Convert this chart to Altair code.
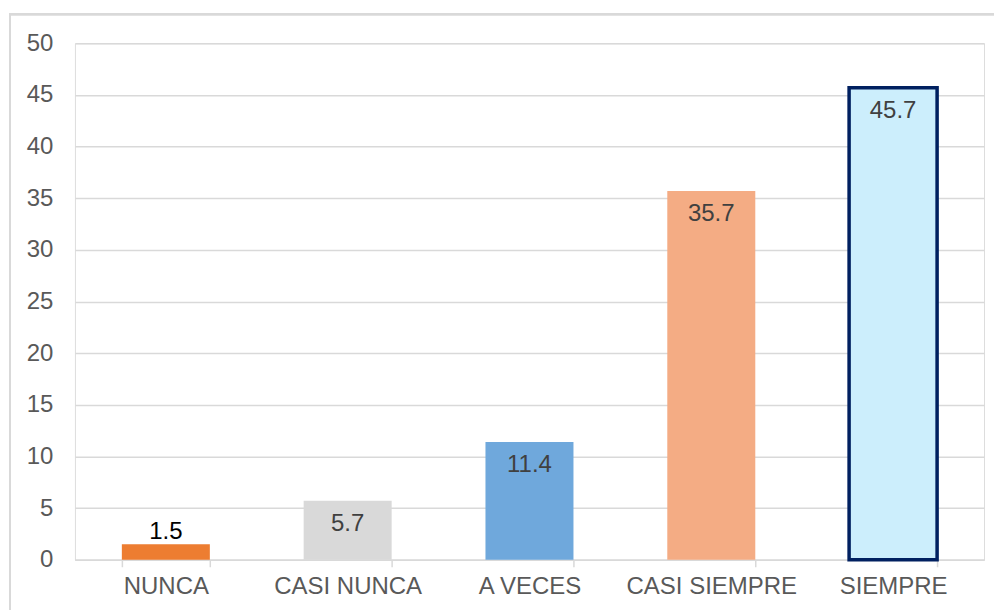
import altair as alt
import pandas as pd

categories = ["NUNCA", "CASI NUNCA", "A VECES", "CASI SIEMPRE", "SIEMPRE"]
values = [1.5, 5.7, 11.4, 35.7, 45.7]
colors = ["#ED7D31", "#D9D9D9", "#6FA8DC", "#F4AC84", "#CCEEFC"]
y_ticks = [0, 5, 10, 15, 20, 25, 30, 35, 40, 45, 50]

df = pd.DataFrame({"cat": categories, "val": values})

FONT = "Liberation Sans"
FS = 24

x_enc = alt.X("cat:N", sort=categories, title=None,
              scale=alt.Scale(paddingInner=0.516, paddingOuter=0.258),
              axis=alt.Axis(labelAngle=0, labelFontSize=FS, labelColor="#595959",
                            labelFont=FONT, labelPadding=8,
                            domainColor="#D9D9D9", domainWidth=1.5,
                            tickColor="#D9D9D9", tickSize=7, tickBand="extent",
                            tickWidth=1.5, grid=False))
y_enc = alt.Y("val:Q", title=None,
              scale=alt.Scale(domain=[0, 50], nice=False),
              axis=alt.Axis(values=y_ticks, labelFontSize=FS, labelColor="#595959",
                            labelFont=FONT, labelPadding=22, domain=False, ticks=False,
                            gridColor="#D9D9D9", gridWidth=1.5))

bars = alt.Chart(df).mark_bar().encode(
    x=x_enc, y=y_enc,
    color=alt.Color("cat:N", scale=alt.Scale(domain=categories, range=colors), legend=None),
    stroke=alt.condition("datum.cat == 'SIEMPRE'", alt.value("#002060"), alt.value(None)),
    strokeWidth=alt.condition("datum.cat == 'SIEMPRE'", alt.value(3.5), alt.value(0)),
)

above = alt.Chart(df).transform_filter("datum.val < 3").mark_text(
    fontSize=FS, font=FONT, color="#000000", baseline="bottom", dy=0
).encode(x=alt.X("cat:N", sort=categories), y="val:Q", text=alt.Text("val:Q", format=".1f"))

inside = alt.Chart(df).transform_filter("datum.val >= 3").mark_text(
    fontSize=FS, font=FONT, color="#404040", baseline="top", dy=11
).encode(x=alt.X("cat:N", sort=categories), y="val:Q", text=alt.Text("val:Q", format=".1f"))

frame = alt.Chart(df).mark_rect(fill=None, stroke="#D9D9D9", strokeWidth=2).encode(
    x=alt.value(-65), x2=alt.value(960), y=alt.value(-29), y2=alt.value(700)
)

chart = alt.layer(frame, bars, above, inside).properties(
    width=910, height=517,
    autosize=alt.AutoSizeParams(type="none"),
    padding={"left": 67, "top": 35, "right": 10, "bottom": 60},
).configure_view(stroke=None).configure(background="white")

chart.save("out.html", embed_options={"renderer": "svg", "actions": False})
